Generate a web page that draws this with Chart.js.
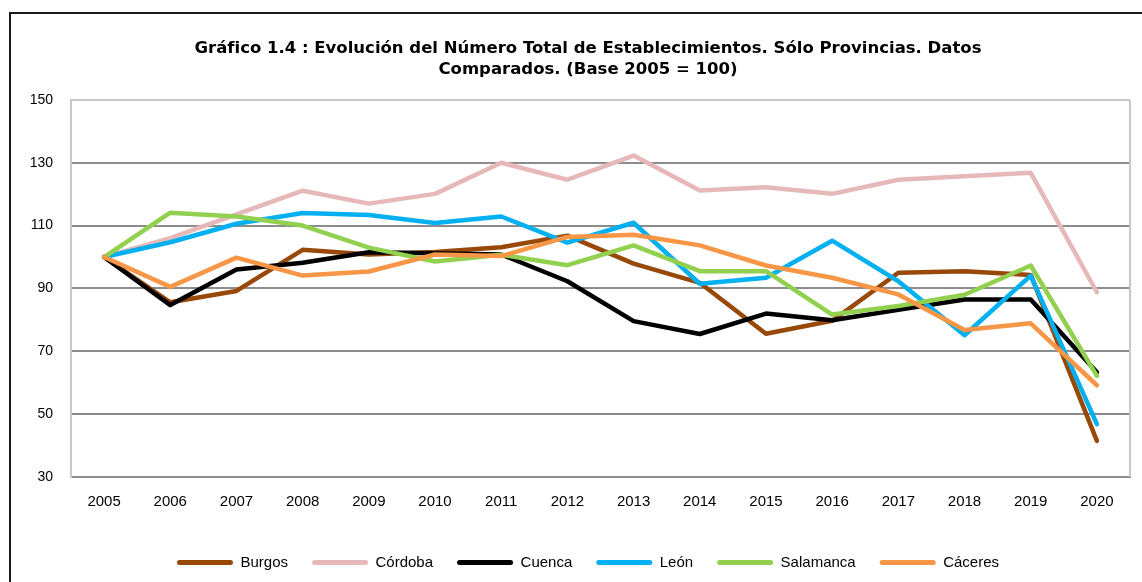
<!DOCTYPE html>
<html lang="es">
<head>
<meta charset="utf-8">
<title>Gráfico 1.4</title>
<script src="https://cdn.jsdelivr.net/npm/chart.js@4/dist/chart.umd.min.js"></script>
<style>
    html, body { margin: 0; padding: 0; background: #fff; width: 1142px; height: 582px; overflow: hidden; }
    #marco { position: absolute; left: 9px; top: 12px; width: 1158px; height: 600px; border: 2px solid #1a1a1a; box-sizing: border-box; }
    #lienzo { position: absolute; left: 9px; top: 12px; width: 1158px; height: 590px; }
</style>
</head>
<body>
<div id="marco"></div>
<div id="lienzo"><canvas id="grafico"></canvas></div>
<script>
// Datos del gráfico (Base 2005 = 100)
const anios = ['2005', '2006', '2007', '2008', '2009', '2010', '2011', '2012', '2013', '2014', '2015', '2016', '2017', '2018', '2019', '2020'];
const burgos = [100, 85.6, 89.2, 102.3, 100.8, 101.6, 103.1, 106.8, 97.9, 91.8, 75.6, 79.7, 95.0, 95.5, 94.3, 41.5];
const cordoba = [100, 106.0, 113.6, 121.1, 117.0, 120.1, 130.0, 124.6, 132.3, 121.2, 122.2, 120.1, 124.6, 125.7, 126.8, 88.8];
const cuenca = [100, 84.7, 96.0, 98.2, 101.5, 101.2, 100.8, 92.3, 79.6, 75.5, 82.0, 79.9, 83.2, 86.5, 86.5, 63.3];
const leon = [100, 104.7, 110.6, 114.0, 113.4, 110.8, 112.9, 104.6, 110.9, 91.5, 93.4, 105.2, 92.3, 75.1, 94.1, 46.8];
const salamanca = [100, 114.1, 112.9, 110.0, 103.0, 98.6, 100.7, 97.4, 103.7, 95.5, 95.5, 81.7, 84.4, 88.0, 97.3, 62.2];
const caceres = [100, 90.5, 99.8, 94.1, 95.4, 100.8, 100.3, 106.4, 107.1, 103.7, 97.3, 93.4, 88.1, 76.8, 78.9, 59.2];
const provincias = ['Burgos', 'Córdoba', 'Cuenca', 'León', 'Salamanca', 'Cáceres'];
const colores = ['#984807', '#E6B9B8', '#000000', '#00B0F0', '#92D050', '#F79646'];
const marcasY = [30, 50, 70, 90, 110, 130, 150];

// Borde derecho del área de trazado
const bordeDerecho = {
    id: 'bordeDerecho',
    afterDraw(chart) {
        const area = chart.chartArea;
        const ctx = chart.ctx;
        ctx.save();
        ctx.strokeStyle = '#c8c8c8';
        ctx.lineWidth = 2;
        ctx.beginPath();
        ctx.moveTo(area.right, area.top);
        ctx.lineTo(area.right, area.bottom);
        ctx.stroke();
        ctx.restore();
    }
};

document.addEventListener('DOMContentLoaded', function() {
    const series = [burgos, cordoba, cuenca, leon, salamanca, caceres];
    const datasets = series.map((valores, i) => ({
        label: provincias[i],
        data: valores,
        borderColor: colores[i],
        backgroundColor: colores[i],
        borderWidth: 4.5,
        borderJoinStyle: 'round',
        borderCapStyle: 'round',
        pointRadius: 0,
        tension: 0,
        order: series.length - i
    }));

    const ctx = document.getElementById('grafico').getContext('2d');
    new Chart(ctx, {
        type: 'line',
        data: { labels: anios, datasets: datasets },
        options: {
            responsive: true,
            maintainAspectRatio: false,
            animation: false,
            layout: { padding: { left: 0, right: 0, top: 0, bottom: 22 } },
            plugins: {
                title: {
                    display: true,
                    text: ['Gráfico 1.4 : Evolución del Número Total de Establecimientos. Sólo Provincias. Datos',
                           'Comparados. (Base 2005 = 100)'],
                    color: '#000',
                    font: { family: 'DejaVu Sans', size: 16.5, weight: 'bold', lineHeight: 1.3 },
                    padding: { top: 26, bottom: 19 }
                },
                legend: {
                    position: 'bottom',
                    // título vacío: deja hueco entre los años y la leyenda
                    title: { display: true, text: ' ', font: { size: 10, lineHeight: 1.2 }, padding: 0 },
                    labels: {
                        color: '#000',
                        font: { family: 'Liberation Sans', size: 15 },
                        boxWidth: 56,
                        boxHeight: 5,
                        padding: 24,
                        useBorderRadius: true,
                        borderRadius: 2.5,
                        sort: (a, b) => a.datasetIndex - b.datasetIndex,
                        generateLabels: function(chart) {
                            const items = Chart.defaults.plugins.legend.labels.generateLabels(chart);
                            items.forEach(it => { it.lineWidth = 0; });
                            return items;
                        }
                    }
                },
                tooltip: { enabled: false }
            },
            scales: {
                x: {
                    offset: true,
                    grid: { display: false },
                    border: { color: '#8c8c8c', width: 2 },
                    ticks: { color: '#000', font: { family: 'Liberation Sans', size: 15 }, padding: 8, maxRotation: 0 }
                },
                y: {
                    min: 30,
                    max: 150,
                    afterBuildTicks: function(scale) {
                        scale.ticks = marcasY.map(v => ({ value: v }));
                    },
                    afterFit: function(scale) { scale.width = 62; },
                    grid: {
                        drawTicks: false,
                        lineWidth: 2,
                        color: c => (c.tick && c.tick.value === 150) ? '#c8c8c8' : '#8c8c8c'
                    },
                    border: { color: '#c8c8c8', width: 2 },
                    ticks: { color: '#000', font: { family: 'Liberation Sans', size: 14 }, padding: 18 }
                },
                // eje vacío a la derecha, solo para reservar margen
                margen: {
                    position: 'right',
                    grid: { display: false },
                    border: { display: false },
                    ticks: { display: false },
                    afterFit: function(scale) { scale.width = 37; }
                }
            }
        },
        plugins: [bordeDerecho]
    });
});
</script>
</body>
</html>
